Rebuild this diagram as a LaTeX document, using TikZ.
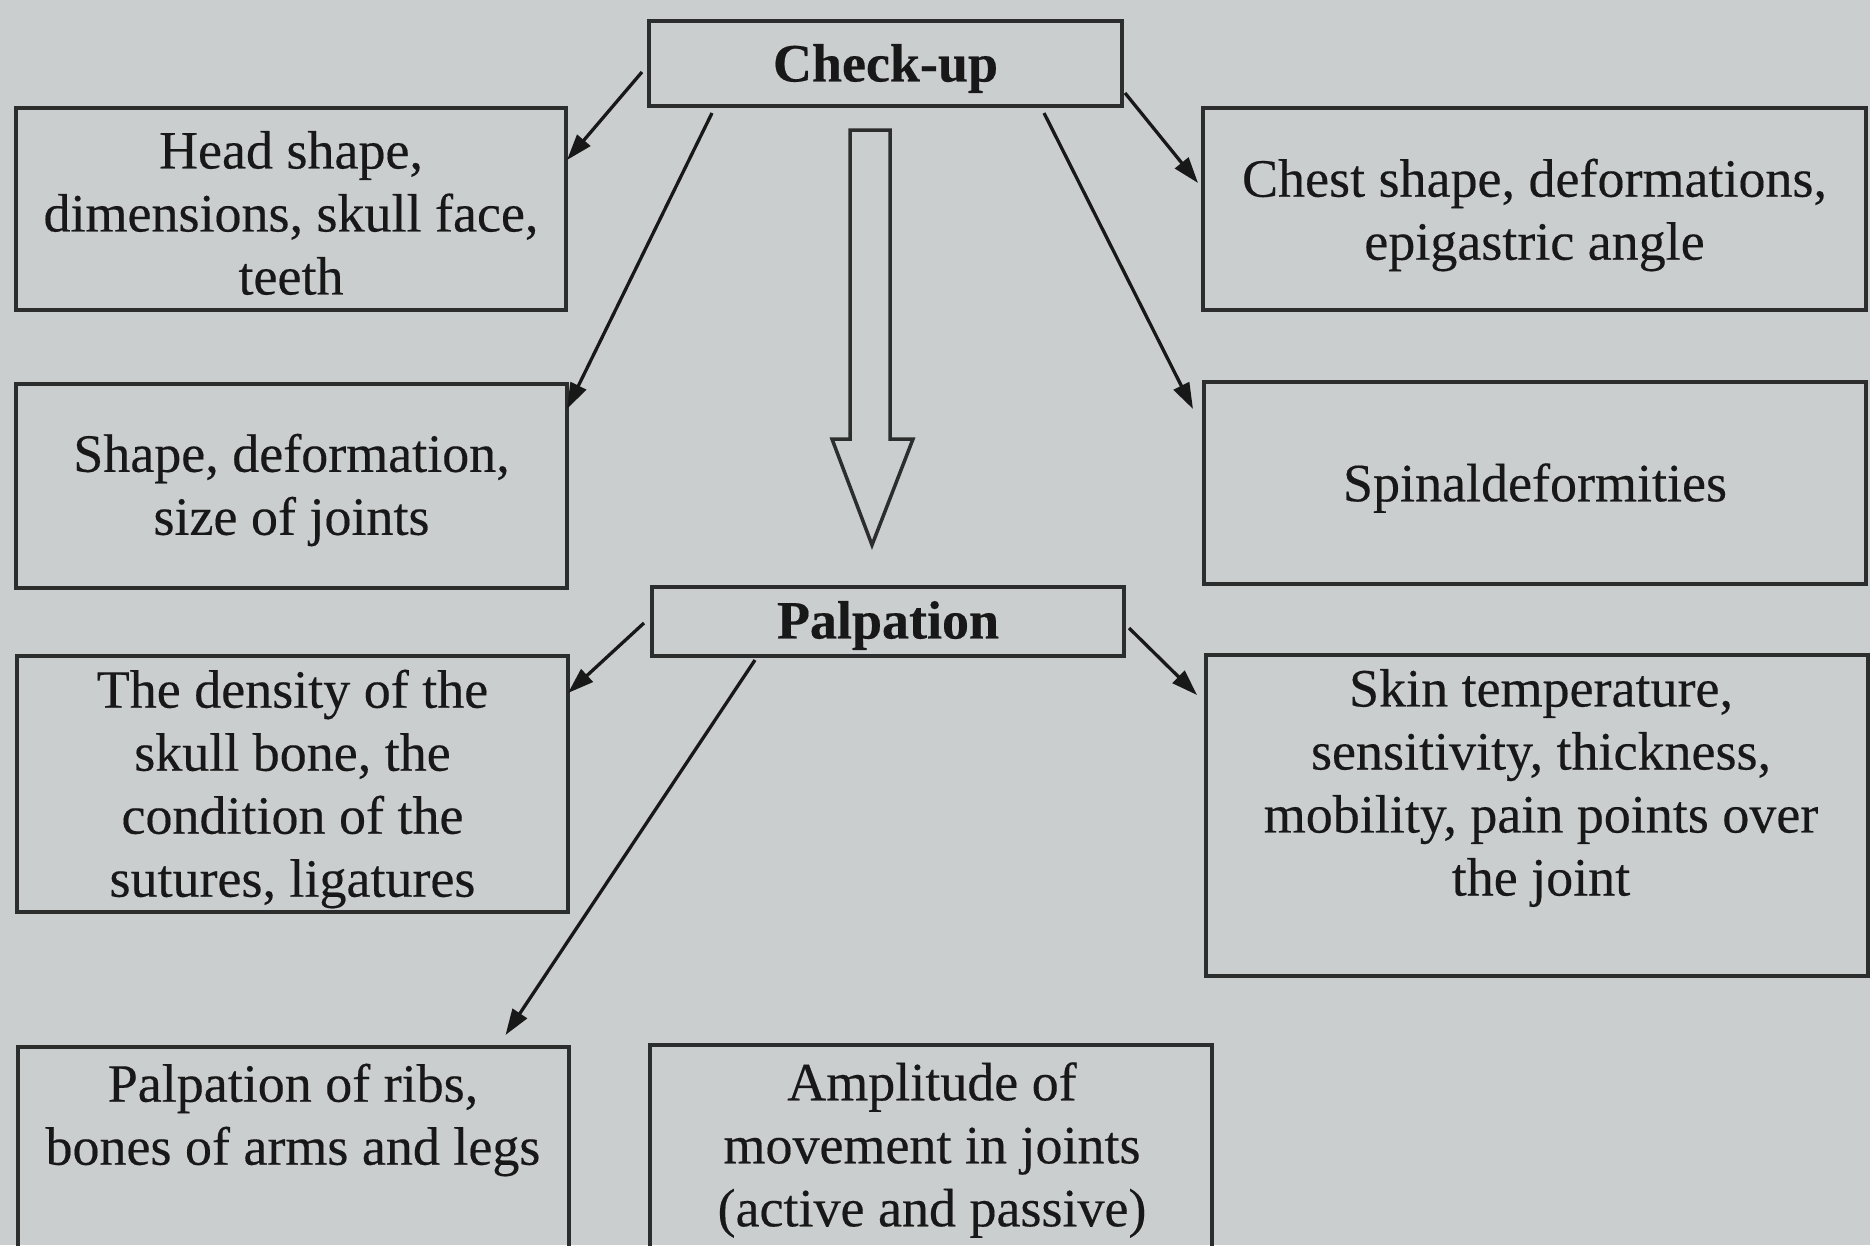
\documentclass[tikz,border=0pt]{standalone}
\usepackage{fontspec}
\setmainfont[FakeBold=0.3]{Liberation Serif}
\usetikzlibrary{calc,arrows.meta}
\definecolor{paper}{RGB}{203,206,206}
\definecolor{ink}{RGB}{24,24,24}
\definecolor{boxline}{RGB}{44,46,46}
\begin{document}
\begin{tikzpicture}[x=1pt,y=-1pt,
  txt/.style={font=\fontsize{54}{63}\selectfont, text=ink, align=center, inner sep=0pt},
  headtxt/.style={txt, font=\fontsize{54}{63}\selectfont\bfseries},
  box/.style={draw=boxline, line width=3.5pt, inner sep=0pt, outer sep=0pt},
  link/.style={draw=ink, line width=3.3pt, -{Triangle[length=26pt,width=17pt]}}
]
\useasboundingbox (0,0) rectangle (1870,1245);
\clip (0,0) rectangle (1870,1245);
\fill[paper] (0,0) rectangle (1870,1245);

% top level headings
\node[box, minimum width=473pt, minimum height=85pt] (checkup) at (885.5,63.5) {};
\node[headtxt] (checkuptext) at ([yshift=-5pt]checkup.center) {Check-up};
\node[box, minimum width=472pt, minimum height=69pt] (palp) at (888,621.5) {};
\node[headtxt] (palptext) at ([yshift=-4pt]palp.center) {Palpation};

% left column
\node[box, minimum width=550pt, minimum height=202pt] (head) at (291,209) {};
\node[txt] (headtext) at ([yshift=-4pt]head.center)
  {Head shape,\\dimensions, skull face,\\teeth};
\node[box, minimum width=551pt, minimum height=204pt] (shape) at (291.5,486) {};
\node[txt] (shapetext) at ([yshift=-4pt]shape.center)
  {Shape, deformation,\\size of joints};
\node[box, minimum width=551pt, minimum height=256pt] (density) at (292.5,784) {};
\node[txt] (densitytext) at ([yshift=-5pt]density.center)
  {The density of the\\skull bone, the\\condition of the\\sutures, ligatures};
\node[box, minimum width=551pt, minimum height=243pt] (ribs) at (293.5,1168.5) {};
\node[txt] (ribstext) at (293,1120) {Palpation of ribs,\\bones of arms and legs};

% middle bottom
\node[box, minimum width=562pt, minimum height=245pt] (ampl) at (931,1167.5) {};
\node[txt] (ampltext) at (932,1150) {Amplitude of\\movement in joints\\(active and passive)};

% right column
\node[box, minimum width=663pt, minimum height=202pt] (chest) at (1534.5,209) {};
\node[txt] (chesttext) at ([yshift=-6pt]chest.center)
  {Chest shape, deformations,\\epigastric angle};
\node[box, minimum width=662pt, minimum height=202pt] (spinal) at (1535,483) {};
\node[txt] (spinaltext) at ([yshift=-5pt]spinal.center) {Spinaldeformities};
\node[box, minimum width=662pt, minimum height=321pt] (skin) at (1537,815.5) {};
\node[txt] (skintext) at (1541,788)
  {Skin temperature,\\sensitivity, thickness,\\mobility, pain points over\\the joint};

% hollow arrow from check-up to palpation
\draw[draw=boxline, line width=3.5pt, line join=miter]
  (850,130) -- (890,130) -- (890,439) -- (913,439) -- (872,545)
  -- (832,439) -- (850,439) -- cycle;

% connectors
\draw[link] ($(checkup.west)+(-7,8.5)$) -- ($(head.east)+(1,-49)$);
\draw[link] ($(checkup.south west)+(63,7)$) -- ($(shape.north east)+(0,25)$);
\draw[link] ($(checkup.south east)+(3,-13)$) -- ($(chest.west)+(-5,-26)$);
\draw[link] ($(checkup.south east)+(-78,7)$) -- ($(spinal.north west)+(-11,27)$);
\draw[link] ($(palp.west)+(-8,1.5)$) -- ($(density.north east)+(0,37)$);
\draw[link] ($(palp.south west)+(103,4)$) -- ($(ribs.north)+(212,-12)$);
\draw[link] ($(palp.east)+(5,6.5)$) -- ($(skin.north west)+(-9,40)$);
\end{tikzpicture}
\end{document}
